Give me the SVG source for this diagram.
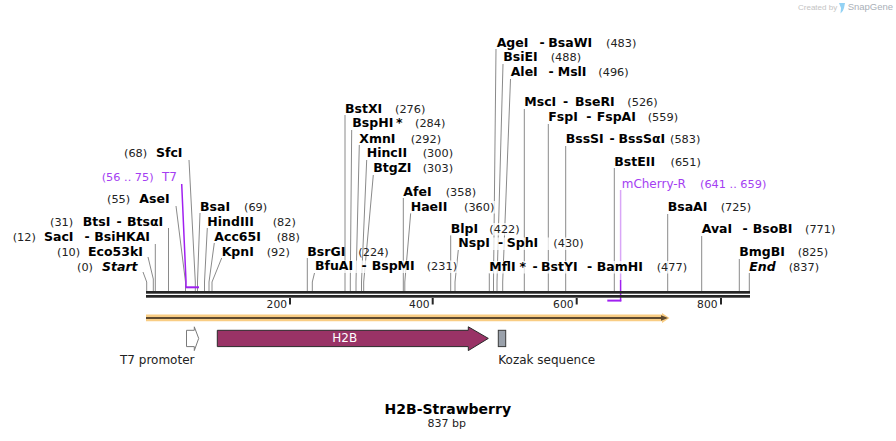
<svg xmlns="http://www.w3.org/2000/svg" width="896" height="441" viewBox="0 0 896 441">
<style>
text{font-family:"DejaVu Sans",Verdana,sans-serif}
.e{font-weight:bold;font-size:12.5px;fill:#000}
.n{font-size:11.3px;fill:#222}
.i{font-style:italic}
.ln{stroke:#8a8a8a;stroke-width:1;fill:none}
.pt{fill:#a43ef2;font-size:12px}
.pn{fill:#a43ef2;font-size:11.3px}
.bg{fill:#fff;opacity:0.75}
.tk{font-size:10.7px;fill:#222;text-anchor:end}
.fl{font-size:12px;fill:#222}
.bar{fill:#262626}
</style>
<rect width="896" height="441" fill="#fff"/>

<g id="logo">
<text x="798" y="10" style="font-family:'Liberation Sans',Arial,sans-serif;font-size:8px;fill:#c4c4c4">Created by</text>
<path d="M839,3 H845 L844,8 Q843,12 840.5,13.5 L841,8 Z" fill="#93d2f4"/>
<text x="847.7" y="10" style="font-family:'Liberation Sans',Arial,sans-serif;font-size:9.5px;fill:#aab0b8">SnapGene</text>
</g>

<g id="connectors">
<path class="ln" d="M143,272 L146.7,282 V291"/>
<path class="ln" d="M148,257 L153.3,279 V291"/>
<path class="ln" d="M155.3,244 V291"/>
<path class="ln" d="M168.5,228 V291"/>
<path class="ln" d="M176,206 L185.5,282 V291"/>
<path class="ln" d="M189,160 L195.3,282 V291"/>
<path class="ln" d="M200,213 L197.5,282 V291"/>
<path class="ln" d="M207.3,228 L204.5,282 V291"/>
<path class="ln" d="M214.3,243 L209,282 V291"/>
<path class="ln" d="M221.7,258 L212,282 V291"/>
<path class="ln" d="M307.3,258 V291"/>
<path class="ln" d="M314.5,273 L312.3,282 V291"/>
<path class="ln" d="M345,115 V291"/>
<path class="ln" d="M351.7,130 L350.3,282 V291"/>
<path class="ln" d="M359.3,145 L356,282 V291"/>
<path class="ln" d="M366.7,160 L361.5,282 V291"/>
<path class="ln" d="M373.3,175 L363.7,282 V291"/>
<path class="ln" d="M403.3,198 V291"/>
<path class="ln" d="M410.7,213 L404.8,282 V291"/>
<path class="ln" d="M450.7,235 V291"/>
<path class="ln" d="M458.3,250 L455,282 V291"/>
<path class="ln" d="M489.3,273 V291"/>
<path class="ln" d="M496,49 L493.5,282 V291"/>
<path class="ln" d="M503,64 L497,282 V291"/>
<path class="ln" d="M510.5,79 L502.7,282 V291"/>
<path class="ln" d="M524.3,109 V291"/>
<path class="ln" d="M548.3,124 V291"/>
<path class="ln" d="M565.7,146 V291"/>
<path class="ln" d="M614.3,168 V291"/>
<path class="ln" d="M667.7,214 V291"/>
<path class="ln" d="M701.7,236 V291"/>
<path class="ln" d="M739.3,259 V291"/>
<path class="ln" d="M749.3,273 V291"/>
<path d="M181.7,184 L186,281 V287.3" stroke="#a020f0" stroke-width="1.5" fill="none"/>
<path d="M185.5,287.3 H199" stroke="#a020f0" stroke-width="2" fill="none"/>
<path d="M620.6,190 V280" stroke="#d9a6f7" stroke-width="1.5" fill="none"/>
<path d="M620.6,280 V301.3" stroke="#a020f0" stroke-width="1.5" fill="none"/>
<path d="M607.3,300.6 H621.3" stroke="#a020f0" stroke-width="2" fill="none"/>
</g>

<g id="sequence">
<rect class="bar" x="146" y="291" width="604" height="2.7"/>
<rect class="bar" x="146" y="295" width="604" height="2.7"/>
<rect class="bar" x="289" y="298" width="2" height="6.5"/>
<rect class="bar" x="431.7" y="298" width="2" height="6.5"/>
<rect class="bar" x="575.7" y="298" width="2" height="6.5"/>
<rect class="bar" x="720" y="298" width="2" height="6.5"/>
<text class="tk" x="287" y="307.5">200</text>
<text class="tk" x="429.5" y="307.5">400</text>
<text class="tk" x="573.5" y="307.5">600</text>
<text class="tk" x="717.5" y="307.5">800</text>
</g>

<g id="orf">
<path d="M146,314.5 H662 V313 L669.5,318 L662,323 V321.2 H146 Z" fill="#f9cd84"/>
<path d="M146,318 H664" stroke="#5e4a30" stroke-width="2.2"/>
<path d="M661,315.3 L668,318 L661,320.7 Z" fill="#5e4a30"/>
</g>

<g id="t7-promoter">
<path d="M186.5,330.3 H194.3 V326.8 L198.7,338.4 L194.3,350.6 V346.6 H186.5 Z" fill="#fff" stroke="#7a7a7a" stroke-width="1"/>
<text class="fl" x="120" y="364">T7 promoter</text>
</g>
<g id="h2b">
<path d="M217.3,330.3 H468.3 V326.8 L488.3,338.4 L468.3,350.6 V346.6 H217.3 Z" fill="#993366" stroke="#2a2a2a" stroke-width="1"/>
<text x="344.8" y="341.7" text-anchor="middle" style="font-size:12px;fill:#fff">H2B</text>
</g>
<g id="kozak">
<rect x="498.3" y="330.3" width="7.4" height="16.3" fill="#9aa1ab" stroke="#3a3a3a" stroke-width="1"/>
<text class="fl" x="498.3" y="364">Kozak sequence</text>
</g>

<g id="title">
<text x="447.8" y="414" text-anchor="middle" style="font-weight:bold;font-size:14px;fill:#000">H2B-Strawberry</text>
<text x="446.7" y="426.5" text-anchor="middle" style="font-size:11px;fill:#222">837 bp</text>
</g>

<g id="site-start"><text y="270.7"><tspan class="n" x="77">(0)</tspan><tspan class="e i" x="102">Start</tspan></text></g>
<g id="site-eco53ki"><text y="255.7"><tspan class="n" x="57">(10)</tspan><tspan class="e" x="88">Eco53kI</tspan></text></g>
<g id="site-saci"><text y="240.7"><tspan class="n" x="12.7">(12)</tspan><tspan class="e" x="44">SacI</tspan><tspan class="e" x="84.5">-</tspan><tspan class="e" x="94.3">BsiHKAI</tspan></text></g>
<g id="site-btsi"><text y="225.7"><tspan class="n" x="50">(31)</tspan><tspan class="e" x="82.7">BtsI</tspan><tspan class="e" x="116.5">-</tspan><tspan class="e" x="127">BtsαI</tspan></text></g>
<g id="site-asei"><text y="203.3"><tspan class="n" x="107">(55)</tspan><tspan class="e" x="139.3">AseI</tspan></text></g>
<g id="primer-t7"><text y="181"><tspan class="pn" x="101.7">(56 .. 75)</tspan><tspan class="pt" x="162">T7</tspan></text></g>
<g id="site-sfci"><text y="157.3"><tspan class="n" x="124">(68)</tspan><tspan class="e" x="156">SfcI</tspan></text></g>
<g id="site-bsai"><text y="210.7"><tspan class="e" x="200">BsaI</tspan><tspan class="n" x="244">(69)</tspan></text></g>
<g id="site-hindiii"><text y="225.7"><tspan class="e" x="207.3">HindIII</tspan><tspan class="n" x="272.7">(82)</tspan></text></g>
<g id="site-acc65i"><text y="240.7"><tspan class="e" x="214.3">Acc65I</tspan><tspan class="n" x="276.7">(88)</tspan></text></g>
<g id="site-kpni"><text y="255.7"><tspan class="e" x="221.7">KpnI</tspan><tspan class="n" x="266.7">(92)</tspan></text></g>
<g id="site-bsrgi"><text y="255.7"><tspan class="e" x="307.3">BsrGI</tspan><tspan class="n" x="358.3">(224)</tspan></text></g>
<g id="site-bfuai"><rect class="bg" x="314" y="260.5" width="143" height="12.5"/><text y="270"><tspan class="e" x="315">BfuAI</tspan><tspan class="e" x="361.5">-</tspan><tspan class="e" x="371.7">BspMI</tspan><tspan class="n" x="426.7">(231)</tspan></text></g>
<g id="site-bstxi"><text y="112.7"><tspan class="e" x="345">BstXI</tspan><tspan class="n" x="395">(276)</tspan></text></g>
<g id="site-bsphi"><text y="127.3"><tspan class="e" x="352.3">BspHI</tspan><tspan class="e" x="396">*</tspan><tspan class="n" x="415">(284)</tspan></text></g>
<g id="site-xmni"><text y="142.7"><tspan class="e" x="359.3">XmnI</tspan><tspan class="n" x="410.7">(292)</tspan></text></g>
<g id="site-hincii"><text y="157.3"><tspan class="e" x="366.7">HincII</tspan><tspan class="n" x="422.7">(300)</tspan></text></g>
<g id="site-btgzi"><text y="172.3"><tspan class="e" x="373.3">BtgZI</tspan><tspan class="n" x="422.7">(303)</tspan></text></g>
<g id="site-afei"><text y="195.7"><tspan class="e" x="403.3">AfeI</tspan><tspan class="n" x="445.7">(358)</tspan></text></g>
<g id="site-haeii"><rect class="bg" x="410" y="201" width="85" height="12.5"/><text y="210.7"><tspan class="e" x="410.7">HaeII</tspan><tspan class="n" x="464">(360)</tspan></text></g>
<g id="site-blpi"><rect class="bg" x="450" y="223" width="71" height="12.5"/><text y="232.7"><tspan class="e" x="450.7">BlpI</tspan><tspan class="n" x="489.3">(422)</tspan></text></g>
<g id="site-nspi"><rect class="bg" x="457.5" y="237.5" width="127" height="12.5"/><text y="247.3"><tspan class="e" x="458.3">NspI</tspan><tspan class="e" x="498">-</tspan><tspan class="e" x="506.7">SphI</tspan><tspan class="n" x="553.3">(430)</tspan></text></g>
<g id="site-mfli"><rect class="bg" x="488.5" y="261" width="199" height="12.5"/><text y="270.7"><tspan class="e" x="489.3">MflI</tspan><tspan class="e" x="519.5">*</tspan><tspan class="e" x="532.5">-</tspan><tspan class="e" x="541">BstYI</tspan><tspan class="e" x="587">-</tspan><tspan class="e" x="596.7">BamHI</tspan><tspan class="n" x="656.7">(477)</tspan></text></g>
<g id="site-agei"><text y="46.5"><tspan class="e" x="496.7">AgeI</tspan><tspan class="e" x="539.5">-</tspan><tspan class="e" x="548.3">BsaWI</tspan><tspan class="n" x="606">(483)</tspan></text></g>
<g id="site-bsiei"><text y="61"><tspan class="e" x="503.3">BsiEI</tspan><tspan class="n" x="550.7">(488)</tspan></text></g>
<g id="site-alei"><text y="76"><tspan class="e" x="510.7">AleI</tspan><tspan class="e" x="548.5">-</tspan><tspan class="e" x="557.7">MslI</tspan><tspan class="n" x="598.3">(496)</tspan></text></g>
<g id="site-msci"><text y="106"><tspan class="e" x="524.3">MscI</tspan><tspan class="e" x="563">-</tspan><tspan class="e" x="575">BseRI</tspan><tspan class="n" x="627.3">(526)</tspan></text></g>
<g id="site-fspi"><text y="121"><tspan class="e" x="548.3">FspI</tspan><tspan class="e" x="586.3">-</tspan><tspan class="e" x="596.7">FspAI</tspan><tspan class="n" x="647.7">(559)</tspan></text></g>
<g id="site-bsssi"><text y="143"><tspan class="e" x="565.7">BssSI</tspan><tspan class="e" x="609.5">-</tspan><tspan class="e" x="618.5">BssSαI</tspan><tspan class="n" x="670">(583)</tspan></text></g>
<g id="site-bsteii"><text y="165.5"><tspan class="e" x="614.3">BstEII</tspan><tspan class="n" x="670.5">(651)</tspan></text></g>
<g id="primer-mcherry-r"><text y="187.5"><tspan class="pt" x="621.7">mCherry-R</tspan><tspan class="pn" x="700">(641 .. 659)</tspan></text></g>
<g id="site-bsaai"><text y="211"><tspan class="e" x="667.7">BsaAI</tspan><tspan class="n" x="720.7">(725)</tspan></text></g>
<g id="site-avai"><text y="233"><tspan class="e" x="701.7">AvaI</tspan><tspan class="e" x="742.5">-</tspan><tspan class="e" x="752.7">BsoBI</tspan><tspan class="n" x="805">(771)</tspan></text></g>
<g id="site-bmgbi"><text y="256"><tspan class="e" x="739.3">BmgBI</tspan><tspan class="n" x="797.7">(825)</tspan></text></g>
<g id="site-end"><text y="270.5"><tspan class="e i" x="749.3">End</tspan><tspan class="n" x="788.7">(837)</tspan></text></g>
</svg>
